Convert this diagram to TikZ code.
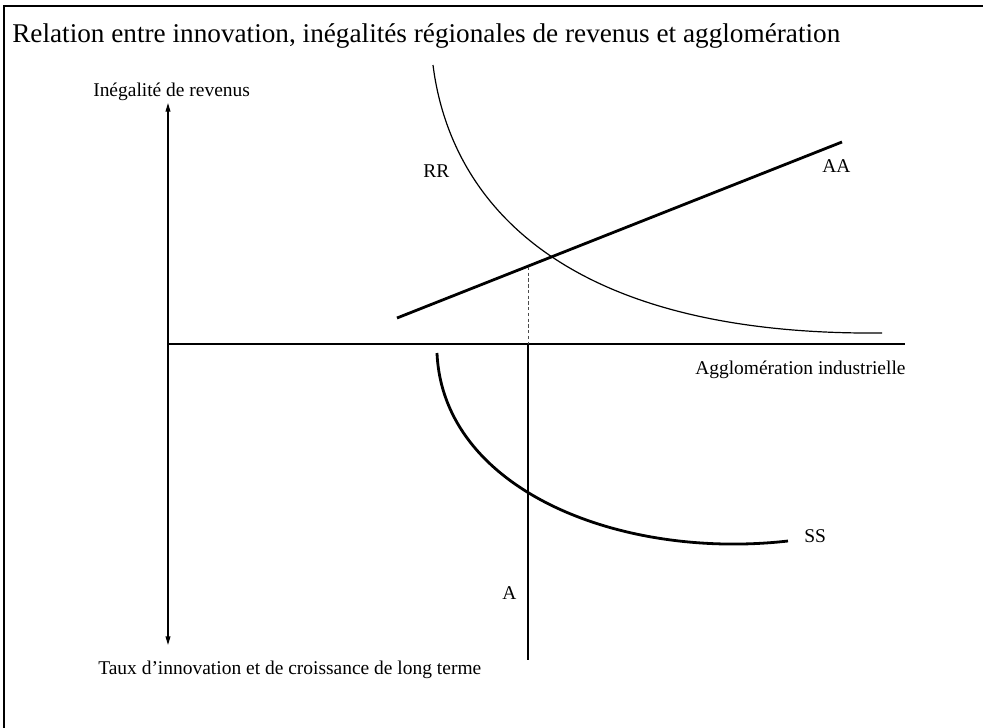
\documentclass[tikz,border=0pt]{standalone}
\usepackage{fontspec}
\usepackage{graphicx}
\setmainfont{Liberation Serif}
\usetikzlibrary{arrows.meta}
\tikzset{
  lbl/.style={anchor=base west, inner sep=0pt, font=\fontsize{14.6pt}{17pt}\selectfont},
  thinline/.style={line width=0.9pt, black},
  thickline/.style={line width=2.1pt, black},
  frameline/.style={line width=1.4pt, black},
  axisarrow/.style={line width=1pt, {Triangle[length=6.5pt,width=3.6pt]}-{Triangle[length=6.5pt,width=3.6pt]}},
  dashline/.style={line width=0.6pt, black!70, dash pattern=on 2.5pt off 1.8pt}
}
\begin{document}
\begin{tikzpicture}[x=0.75pt,y=-0.75pt]
\useasboundingbox (0,0) rectangle (983,728);
% frame
\coordinate (ftl) at (4,6);
\coordinate (ftr) at (983,6);
\coordinate (fbl) at (4,728);
\draw[frameline] (ftr) -- (ftl) -- (fbl);
% title
\node[anchor=base west, inner sep=0pt] (title) at (12,42)
  {\resizebox{621pt}{\height}{\fontsize{20.3pt}{24pt}\selectfont Relation entre innovation, inégalités régionales de revenus et agglomération}};
% axes
\coordinate (vtop) at (168,103);
\coordinate (vbot) at (168,645);
\draw[axisarrow] (vbot) -- (vtop);
\coordinate (hl) at (168,344);
\coordinate (hr) at (905,344);
\draw[thinline] (hl) -- (hr);
% axis labels
\node[lbl] (ylab) at (93,96) {Inégalité de revenus};
\node[lbl] (ydlab) at (98,674) {Taux d’innovation et de croissance de long terme};
\node[lbl] (xlab) at (695,374) {Agglomération industrielle};
% AA line
\coordinate (aa1) at (397,318);
\coordinate (aa2) at (842,142);
\draw[thickline] (aa1) -- (aa2);
\node[lbl] (aalab) at (822,172) {AA};
% dashed line
\coordinate (dtop) at (528,267);
\coordinate (dbot) at (528,344);
\draw[dashline] (dtop) -- (dbot);
% A line
\coordinate (atop) at (528,344);
\coordinate (abot) at (528,660);
\draw[thickline, line cap=butt] (atop) -- (abot);
\node[lbl] (alab) at (502,599) {A};
% RR curve
\coordinate (rr1) at (433,65);
\coordinate (rr2) at (882,333);
\draw[thinline] (rr1) .. controls (450,200) and (560,336) .. (rr2);
\node[lbl] (rrlab) at (423,177) {RR};
% SS curve
\coordinate (ss1) at (437,353);
\coordinate (ss2) at (788,541);
\draw[thickline] (ss1) .. controls (443,490) and (620,560) .. (ss2);
\node[lbl] (sslab) at (804,542) {SS};
\end{tikzpicture}
\end{document}
